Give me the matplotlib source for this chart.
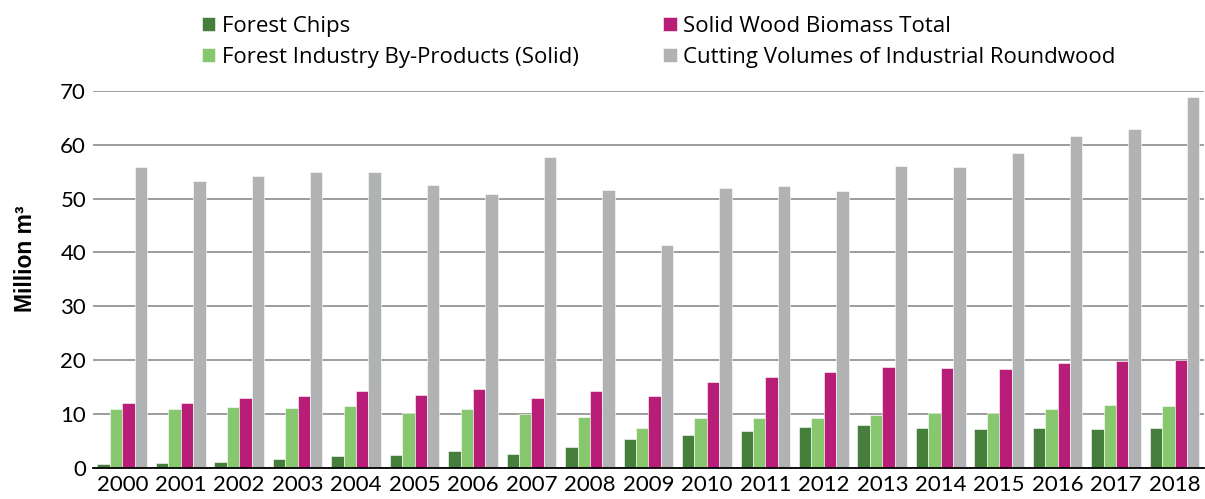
import numpy as np
import matplotlib
matplotlib.use("Agg")
import matplotlib.pyplot as plt

years = [str(y) for y in range(2000, 2019)]
forest_chips = [0.75, 0.9, 1.2, 1.65, 2.3, 2.5, 3.1, 2.6, 3.95, 5.4, 6.2, 6.85, 7.6, 8.0, 7.5, 7.3, 7.4, 7.15, 7.4]
by_products = [11.0, 10.9, 11.4, 11.1, 11.5, 10.3, 11.0, 10.0, 9.5, 7.5, 9.2, 9.3, 9.3, 9.9, 10.2, 10.2, 10.9, 11.7, 11.5]
solid_total = [12.0, 12.1, 13.0, 13.3, 14.3, 13.6, 14.7, 13.0, 14.3, 13.4, 16.0, 16.8, 17.8, 18.7, 18.6, 18.3, 19.4, 19.95, 20.05]
roundwood = [55.9, 53.2, 54.2, 55.0, 55.0, 52.5, 50.8, 57.8, 51.6, 41.3, 52.0, 52.4, 51.5, 56.0, 55.9, 58.5, 61.7, 62.9, 68.9]

names = ["Forest Chips", "Forest Industry By-Products (Solid)",
         "Solid Wood Biomass Total", "Cutting Volumes of Industrial Roundwood"]
colors = ["#467e3b", "#87c76e", "#b81e78", "#b0b2b4"]

fig = plt.figure(figsize=(12.05, 4.99), dpi=100)
ax = fig.add_axes([0.0772, 0.0621, 0.9218, 0.7559])

x = np.arange(len(years))
w = 0.212
series = [forest_chips, by_products, solid_total, roundwood]
for i, (vals, c, n) in enumerate(zip(series, colors, names)):
    ax.bar(x + (i - 1.5) * w, vals, w, color=c, label=n, zorder=3,
           edgecolor="white", linewidth=0.4)

ax.set_xlim(-0.5, len(years) - 0.5)
ax.set_ylim(0, 70)
ax.set_yticks(range(0, 71, 10))
ax.set_xticks(x)
ax.set_xticklabels(years)
ax.yaxis.grid(True, color="#8c8c8c", linewidth=1.2, zorder=0)
for s in ["top", "right", "left"]:
    ax.spines[s].set_visible(False)
ax.spines["bottom"].set_color("black")
ax.spines["bottom"].set_linewidth(1.3)
ax.spines["bottom"].set_zorder(4)
ax.tick_params(length=0, labelsize=16, pad=5)
for lab in ax.get_xticklabels() + ax.get_yticklabels():
    lab.set_family("Lato")

# y label placed by hand (it sits a bit above the axes centre)
fig.text(25.5 / 1205, 1 - 259 / 499, "Million m³", rotation=90,
         ha="center", va="center", fontsize=16.5, fontweight="bold",
         family="Liberation Sans")

fig.legend(loc="upper left", bbox_to_anchor=(0.1676, 0.968), ncol=2,
           frameon=False, prop={"family": "Open Sans", "size": 16},
           handlelength=0.6, handleheight=0.6, handletextpad=0.3,
           columnspacing=3.8, labelspacing=0.45, borderpad=0,
           borderaxespad=0)

fig.savefig("out.png", dpi=100)
